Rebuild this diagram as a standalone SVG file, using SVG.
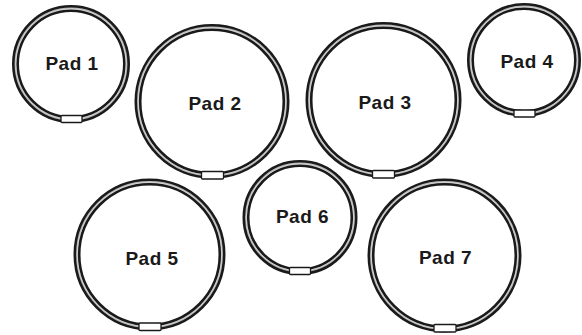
<svg xmlns="http://www.w3.org/2000/svg" width="582" height="335" viewBox="0 0 582 335">
<style>
.rim{fill:#fff;stroke:#1a1a1a;stroke-width:7}
.g1{fill:none;stroke:#b8b8b8;stroke-width:1.8}
.g2{fill:none;stroke:#eeeeee;stroke-width:0.5}
.tab{fill:#fff;stroke:#1a1a1a;stroke-width:1.3}
.lbl{font-family:"Liberation Sans",Arial,sans-serif;font-weight:bold;font-size:19px;letter-spacing:0.5px;fill:#1a1a1a;text-anchor:middle}
</style>
<rect width="582" height="335" fill="#fff"/>
<g id="pad1">
<circle class="rim" cx="71" cy="64" r="55.5"/><circle class="g1" cx="71" cy="64" r="55.5"/><circle class="g2" cx="71" cy="64" r="55.2"/>
<rect class="tab" x="61" y="115.5" width="21" height="7" rx="1"/>
<text class="lbl" x="72" y="70">Pad 1</text>
</g>
<g id="pad2">
<circle class="rim" cx="212" cy="101.5" r="74"/><circle class="g1" cx="212" cy="101.5" r="74"/><circle class="g2" cx="212" cy="101.5" r="73.7"/>
<rect class="tab" x="201.5" y="171.5" width="22" height="7.5" rx="1"/>
<text class="lbl" x="215" y="110">Pad 2</text>
</g>
<g id="pad3">
<circle class="rim" cx="383.5" cy="100" r="74.5"/><circle class="g1" cx="383.5" cy="100" r="74.5"/><circle class="g2" cx="383.5" cy="100" r="74.2"/>
<rect class="tab" x="372.5" y="170.5" width="22" height="7.5" rx="1"/>
<text class="lbl" x="385" y="109">Pad 3</text>
</g>
<g id="pad4">
<circle class="rim" cx="524" cy="60" r="53.5"/><circle class="g1" cx="524" cy="60" r="53.5"/><circle class="g2" cx="524" cy="60" r="53.2"/>
<rect class="tab" x="514" y="110" width="21" height="7" rx="1"/>
<text class="lbl" x="527" y="68">Pad 4</text>
</g>
<g id="pad5">
<circle class="rim" cx="149.5" cy="254.5" r="72.5"/><circle class="g1" cx="149.5" cy="254.5" r="72.5"/><circle class="g2" cx="149.5" cy="254.5" r="72.2"/>
<rect class="tab" x="139" y="323" width="22" height="7.5" rx="1"/>
<text class="lbl" x="152" y="265">Pad 5</text>
</g>
<g id="pad6">
<circle class="rim" cx="300" cy="217.5" r="54"/><circle class="g1" cx="300" cy="217.5" r="54"/><circle class="g2" cx="300" cy="217.5" r="53.7"/>
<rect class="tab" x="289.5" y="267.5" width="21" height="7" rx="1"/>
<text class="lbl" x="302.5" y="223">Pad 6</text>
</g>
<g id="pad7">
<circle class="rim" cx="444.5" cy="255.5" r="73.5"/><circle class="g1" cx="444.5" cy="255.5" r="73.5"/><circle class="g2" cx="444.5" cy="255.5" r="73.2"/>
<rect class="tab" x="434" y="324.5" width="22" height="7.5" rx="1"/>
<text class="lbl" x="445.5" y="264">Pad 7</text>
</g>
<g id="connectors"></g>
</svg>
